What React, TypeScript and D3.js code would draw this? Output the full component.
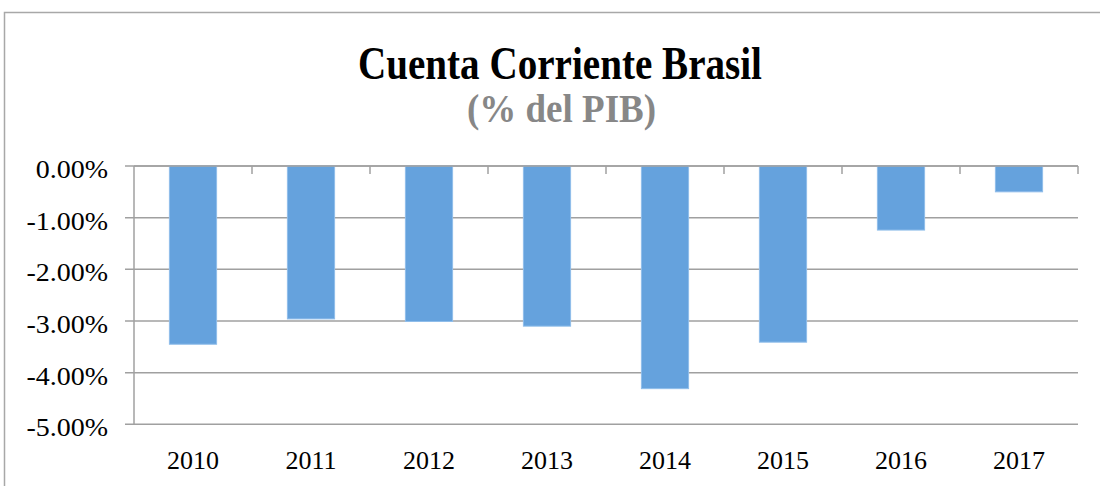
import React from "react";
import * as d3 from "d3";

const years = ["2010", "2011", "2012", "2013", "2014", "2015", "2016", "2017"];
const values = [-3.45, -2.96, -3.01, -3.1, -4.31, -3.41, -1.24, -0.5];
const yTicks = [0, -1, -2, -3, -4, -5];

const W = 1100;
const H = 486;
const left = 134;
const right = 1078;
const top = 166;
const bottom = 424.3;

export default function App() {
  const x = d3.scaleBand<string>().domain(years).range([left, right]).paddingInner(0.6).paddingOuter(0.3);
  const xb = d3.scaleBand<string>().domain(years).range([left, right]);
  const y = d3.scaleLinear().domain([0, -5]).range([top, bottom]);
  const fmt = (v: number) => (v < 0 ? "-" : "") + d3.format(".2f")(Math.abs(v)) + "%";
  const grid = "#a0a0a0";
  const font = "'Liberation Serif', 'DejaVu Serif', serif";
  return (
    <svg width={W} height={H} style={{ position: "absolute", left: 0, top: 0 }} fontFamily={font}>
      <rect x={0} y={0} width={W} height={H} fill="#fff" />
      <rect x={4.5} y={12.5} width={W + 20} height={H + 20} fill="none" stroke="#a8a8a8" strokeWidth={1.5} />
      <text x={358} y={79} fontSize={46} fontWeight="bold" fill="#000" textLength={404} lengthAdjust="spacingAndGlyphs">
        Cuenta Corriente Brasil
      </text>
      <text x={467} y={122} fontSize={40} fontWeight="bold" fill="#878787" textLength={189} lengthAdjust="spacingAndGlyphs">
        (% del PIB)
      </text>
      {yTicks.map((t) => (
        <g key={t}>
          <line x1={125} x2={right} y1={y(t)} y2={y(t)} stroke={grid} strokeWidth={1.5} />
          <g transform={`translate(108,${y(t) + 12}) scale(1.12,1)`}>
            <text x={0} y={0} textAnchor="end" fontSize={25} fill="#000">
              {fmt(t)}
            </text>
          </g>
        </g>
      ))}
      <line x1={left} x2={left} y1={top} y2={bottom} stroke={grid} strokeWidth={1.5} />
      {years.map((yr) => (
        <line key={"t" + yr} x1={(xb(yr) as number) + xb.bandwidth()} x2={(xb(yr) as number) + xb.bandwidth()} y1={top} y2={top + 8} stroke={grid} strokeWidth={1.5} />
      ))}
      {years.map((yr, i) => (
        <rect
          key={yr}
          x={x(yr) as number}
          y={y(0)}
          width={x.bandwidth()}
          height={y(values[i]) - y(0)}
          fill="#65a2dd"
          stroke="#8fbdea"
          strokeWidth={1}
        />
      ))}
      <line x1={left} x2={right} y1={top} y2={top} stroke={grid} strokeWidth={1.5} />
      {years.map((yr) => (
        <text key={"l" + yr} x={(xb(yr) as number) + xb.bandwidth() / 2} y={469} textAnchor="middle" fontSize={26} fill="#000">
          {yr}
        </text>
      ))}
    </svg>
  );
}
